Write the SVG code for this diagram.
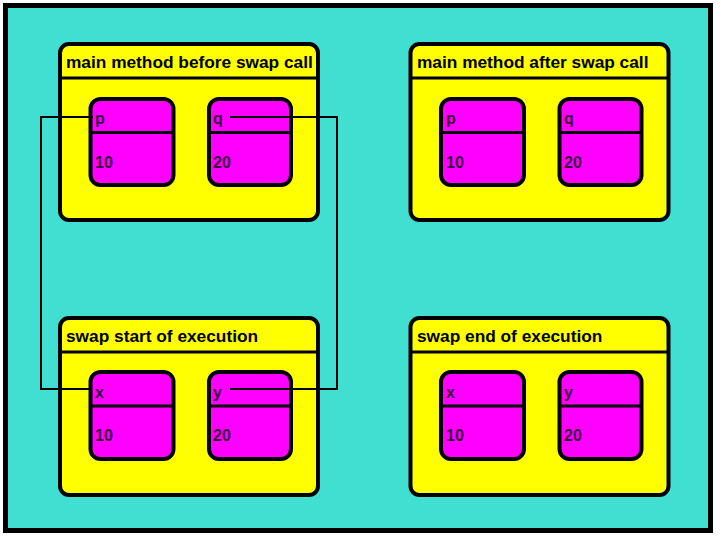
<svg xmlns="http://www.w3.org/2000/svg" width="720" height="540" viewBox="0 0 720 540">
<style>
.bg{fill:#41dfd2;stroke:#000;stroke-width:5}
.panel{fill:#ffff00;stroke:#000;stroke-width:4}
.box{fill:#ff00ff;stroke:#000;stroke-width:4}
.sep{stroke:#000;stroke-width:3}
.title{font-family:"Liberation Sans",Arial,sans-serif;font-weight:bold;font-size:17.3px;fill:#000}
.lbl{font-family:"Liberation Sans",Arial,sans-serif;font-weight:bold;font-size:16px;fill:#3a0040}
.conn{fill:none;stroke:#000;stroke-width:2}
</style>
<rect width="720" height="540" fill="#fff"/>
<rect class="bg" x="5.5" y="5.5" width="705" height="525"/>
<g id="main-before">
<rect class="panel" x="60" y="44" width="258" height="176" rx="9"/>
<line class="sep" x1="60" y1="78" x2="318" y2="78"/>
<text class="title" x="66" y="68">main method before swap call</text>
<g id="main-before-p">
<rect class="box" x="90.5" y="99" width="83" height="86" rx="10"/>
<line class="sep" x1="90.5" y1="132.5" x2="173.5" y2="132.5"/>
<text class="lbl" x="95" y="124">p</text>
<text class="lbl" x="95" y="168">10</text>
</g>
<g id="main-before-q">
<rect class="box" x="209" y="99" width="82" height="86" rx="10"/>
<line class="sep" x1="209" y1="132.5" x2="291" y2="132.5"/>
<text class="lbl" x="213" y="124">q</text>
<text class="lbl" x="213" y="168">20</text>
</g>
</g>
<g id="main-after">
<rect class="panel" x="410.5" y="44" width="258" height="176" rx="9"/>
<line class="sep" x1="410.5" y1="78" x2="668.5" y2="78"/>
<text class="title" x="417" y="68">main method after swap call</text>
<g id="main-after-p">
<rect class="box" x="441" y="99" width="83" height="86" rx="10"/>
<line class="sep" x1="441" y1="132.5" x2="524" y2="132.5"/>
<text class="lbl" x="446" y="124">p</text>
<text class="lbl" x="446" y="168">10</text>
</g>
<g id="main-after-q">
<rect class="box" x="559.5" y="99" width="82" height="86" rx="10"/>
<line class="sep" x1="559.5" y1="132.5" x2="641.5" y2="132.5"/>
<text class="lbl" x="564" y="124">q</text>
<text class="lbl" x="564" y="168">20</text>
</g>
</g>
<g id="swap-start">
<rect class="panel" x="60" y="318" width="258" height="177" rx="9"/>
<line class="sep" x1="60" y1="352" x2="318" y2="352"/>
<text class="title" x="66" y="342">swap start of execution</text>
<g id="swap-start-x">
<rect class="box" x="90.5" y="372" width="83" height="87" rx="10"/>
<line class="sep" x1="90.5" y1="406" x2="173.5" y2="406"/>
<text class="lbl" x="95" y="398">x</text>
<text class="lbl" x="95" y="441">10</text>
</g>
<g id="swap-start-y">
<rect class="box" x="209" y="372" width="82" height="87" rx="10"/>
<line class="sep" x1="209" y1="406" x2="291" y2="406"/>
<text class="lbl" x="213" y="398">y</text>
<text class="lbl" x="213" y="441">20</text>
</g>
</g>
<g id="swap-end">
<rect class="panel" x="410.5" y="318" width="258" height="177" rx="9"/>
<line class="sep" x1="410.5" y1="352" x2="668.5" y2="352"/>
<text class="title" x="417" y="342">swap end of execution</text>
<g id="swap-end-x">
<rect class="box" x="441" y="372" width="83" height="87" rx="10"/>
<line class="sep" x1="441" y1="406" x2="524" y2="406"/>
<text class="lbl" x="446" y="398">x</text>
<text class="lbl" x="446" y="441">10</text>
</g>
<g id="swap-end-y">
<rect class="box" x="559.5" y="372" width="82" height="87" rx="10"/>
<line class="sep" x1="559.5" y1="406" x2="641.5" y2="406"/>
<text class="lbl" x="564" y="398">y</text>
<text class="lbl" x="564" y="441">20</text>
</g>
</g>
<g id="connectors">
<polyline class="conn" points="93,117 41,117 41,389 92,389"/>
<polyline class="conn" points="230,117 337,117 337,389 230,389"/>
</g>
</svg>
